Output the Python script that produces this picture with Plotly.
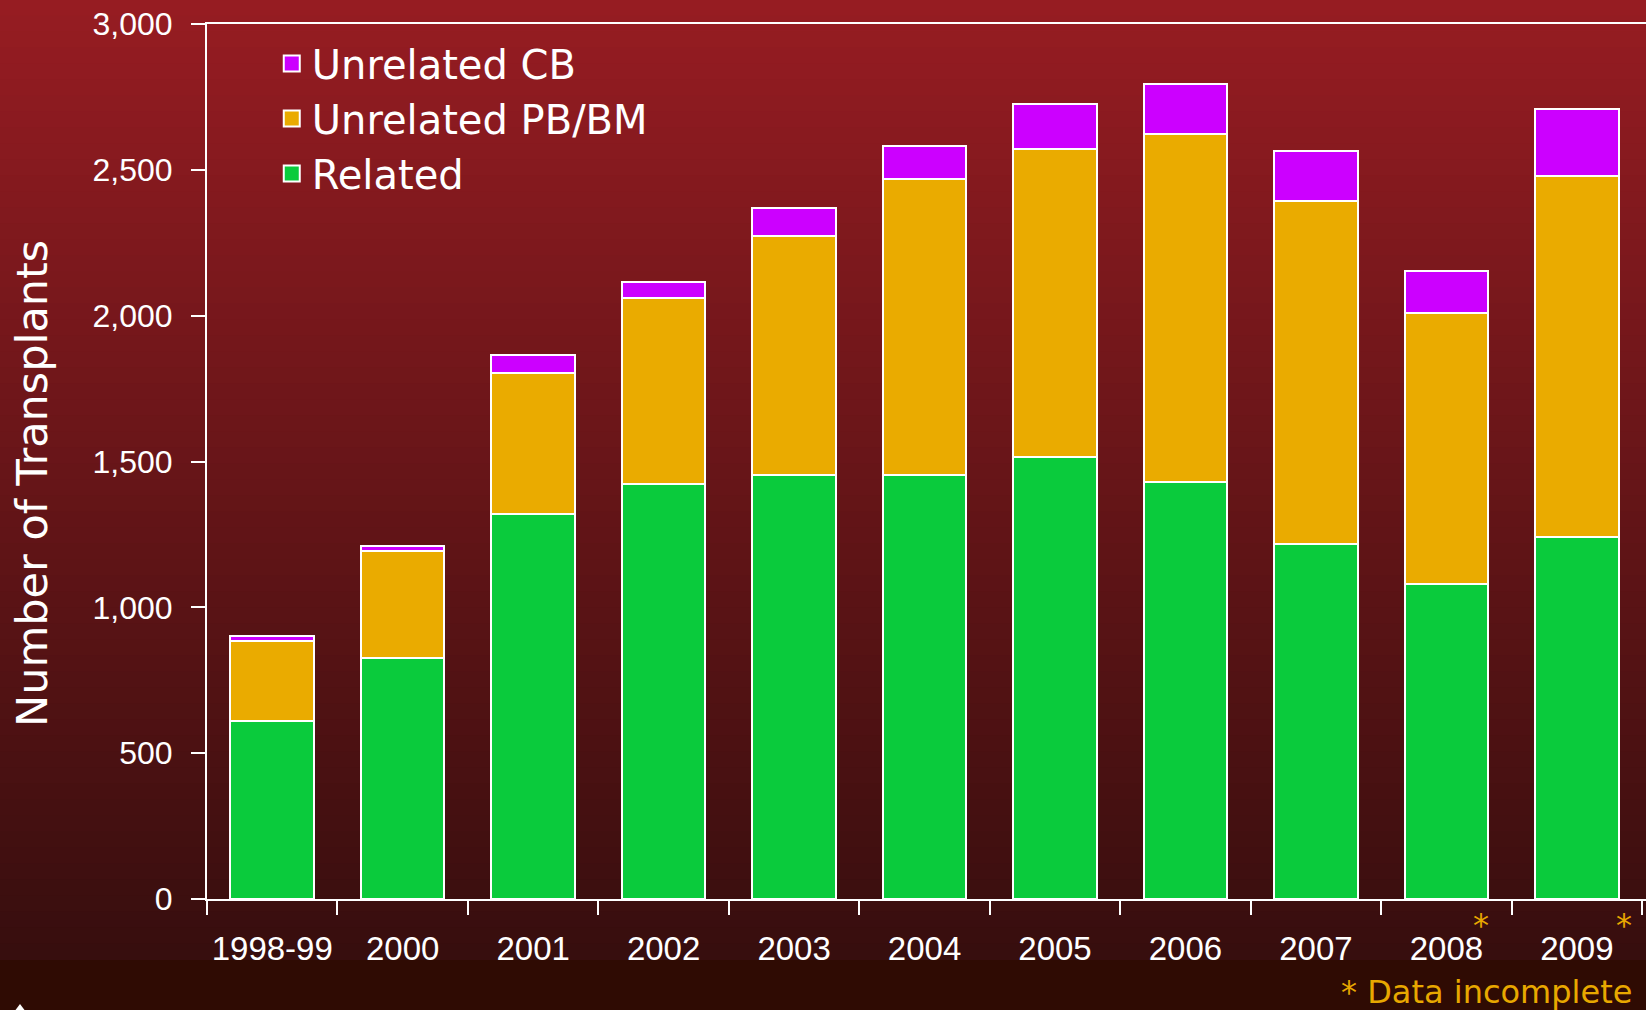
import plotly.graph_objects as go

# Transplant counts by year
years = ["1998-99", "2000", "2001", "2002", "2003", "2004",
         "2005", "2006", "2007", "2008", "2009"]
related = [610, 825, 1320, 1422, 1455, 1454, 1515, 1429, 1217, 1081, 1242]
unrelated_pb_bm = [275, 369, 485, 638, 818, 1015, 1056, 1193, 1176, 928, 1236]
unrelated_cb = [18, 17, 60, 54, 95, 112, 155, 171, 171, 145, 230]
incomplete_years = ["2008", "2009"]

COLOR_RELATED = '#0acb3c'
COLOR_PB = '#eaab00'
COLOR_CB = '#cc00ff'
COLOR_NOTE = '#e8a800'

NARROW = 'Liberation Sans Narrow, Liberation Sans, sans-serif'
WIDE = 'Verdana, DejaVu Sans, sans-serif'

W, H = 1646, 1010
M_L, M_R, M_T, M_B = 207, 0, 24, 111
PLOT_W = W - M_L - M_R


def mix(c1, c2, t):
    a = [int(c1[i:i + 2], 16) for i in (1, 3, 5)]
    b = [int(c2[i:i + 2], 16) for i in (1, 3, 5)]
    return '#' + ''.join(f'{round(a[k] + (b[k] - a[k]) * t):02x}' for k in range(3))


def page_to_paper_y(py):
    plot_h = H - M_T - M_B
    return (H - M_B - py) / plot_h


def page_to_paper_x(px):
    return (px - M_L) / PLOT_W


def background_shapes():
    """Red-to-brown slide gradient, drawn as thin strips behind the plot."""
    shapes = []
    steps = 60
    top, bottom = 0, 960
    for i in range(steps):
        y0 = top + (bottom - top) * i / steps
        y1 = top + (bottom - top) * (i + 1) / steps
        shapes.append(dict(
            type='rect', xref='paper', yref='paper', layer='below',
            x0=-0.2, x1=1.1,
            y0=page_to_paper_y(y1) - 0.001, y1=page_to_paper_y(y0) + 0.001,
            fillcolor=mix('#961c22', '#370e0e', i / (steps - 1)),
            line=dict(width=0)
        ))
    shapes.append(dict(
        type='rect', xref='paper', yref='paper', layer='below',
        x0=-0.2, x1=1.1, y0=page_to_paper_y(H + 5), y1=page_to_paper_y(bottom),
        fillcolor='#2f0b03', line=dict(width=0)
    ))
    # bit of the slide logo peeking in at the bottom-left corner
    px = [(14, 1012), (20, 1004), (26, 1012)]
    path = 'M ' + ' L '.join(f'{page_to_paper_x(x)},{page_to_paper_y(y)}' for x, y in px) + ' Z'
    shapes.append(dict(type='path', xref='paper', yref='paper', path=path,
                       fillcolor='white', line=dict(width=0)))
    return shapes


fig = go.Figure()

# Stacked bars (bottom to top)
for name, values, color in [("Related", related, COLOR_RELATED),
                            ("Unrelated PB/BM", unrelated_pb_bm, COLOR_PB),
                            ("Unrelated CB", unrelated_cb, COLOR_CB)]:
    fig.add_trace(go.Bar(
        x=years, y=values, name=name, showlegend=False,
        marker=dict(color=color, line=dict(color='white', width=2))
    ))

# Legend entries with bigger square swatches
for name, color in [("Unrelated CB", COLOR_CB),
                    ("Unrelated PB/BM", COLOR_PB),
                    ("Related", COLOR_RELATED)]:
    fig.add_trace(go.Scatter(
        x=[None], y=[None], mode='markers', name=name,
        marker=dict(symbol='square', size=22, color=color,
                    line=dict(color='white', width=2))
    ))

fig.update_layout(
    width=W, height=H,
    margin=dict(l=M_L, r=M_R, t=M_T, b=M_B, pad=0, autoexpand=False),
    barmode='stack',
    bargap=0.36,
    paper_bgcolor='#370e0e',
    plot_bgcolor='#270b02',
    shapes=background_shapes(),
    showlegend=True,
    legend=dict(
        x=0.045, y=0.992, xanchor='left', yanchor='top',
        bgcolor='rgba(0,0,0,0)', borderwidth=0,
        font=dict(family=WIDE, size=40, color='white'),
        itemsizing='trace', traceorder='normal'
    ),
)

fig.update_xaxes(
    type='category', range=[-0.5, 10.53], automargin=False,
    showline=True, linecolor='white', linewidth=2, mirror=True,
    showgrid=False, zeroline=False,
    ticks='outside', tickson='boundaries', ticklen=14, tickwidth=2,
    tickcolor='white', ticklabelstandoff=19, tickangle=0,
    tickfont=dict(family=NARROW, size=33, color='white'),
)

fig.update_yaxes(
    range=[0, 3000], tickvals=[0, 500, 1000, 1500, 2000, 2500, 3000],
    tickformat=',', automargin=False,
    showline=True, linecolor='white', linewidth=2,
    showgrid=False, zeroline=False,
    ticks='outside', ticklen=14, tickwidth=2, tickcolor='white',
    ticklabelstandoff=12,
    tickfont=dict(family=NARROW, size=32, color='white'),
)

# Y axis title, placed a bit below the plot centre as on the slide
fig.add_annotation(
    x=page_to_paper_x(32), xref='paper', y=page_to_paper_y(484), yref='paper',
    text='Number of Transplants', textangle=-90, showarrow=False,
    xanchor='center', yanchor='middle',
    font=dict(family=WIDE, size=43, color='white')
)

# Asterisks on incomplete years and the footnote
for yr, shift in zip(incomplete_years, [35, 47]):
    fig.add_annotation(
        x=years.index(yr), xref='x', y=page_to_paper_y(946), yref='paper',
        text='*', showarrow=False, xshift=shift,
        font=dict(family=WIDE, size=32, color=COLOR_NOTE)
    )

fig.add_annotation(
    x=page_to_paper_x(1634), xref='paper', xanchor='right',
    y=page_to_paper_y(992), yref='paper', yanchor='middle',
    text='* Data incomplete', showarrow=False,
    font=dict(family=WIDE, size=32, color=COLOR_NOTE)
)

fig.write_html("out.html", config={'displayModeBar': False},
               post_script="document.body.style.margin='0';")
